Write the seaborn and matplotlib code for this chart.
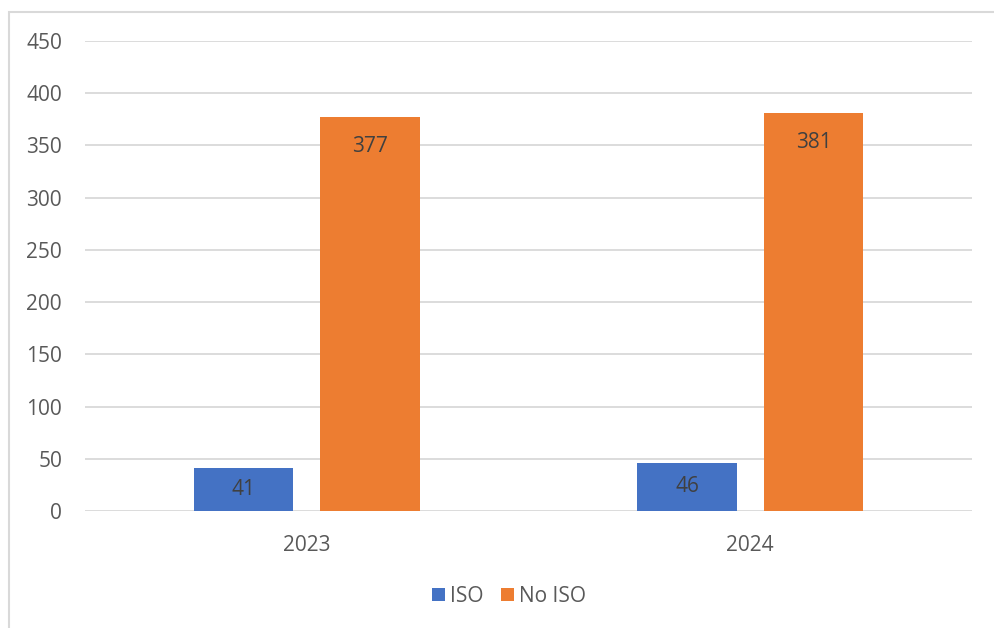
import matplotlib
matplotlib.use("Agg")
import matplotlib.pyplot as plt
import seaborn as sns
import pandas as pd
from matplotlib.patches import Rectangle, Patch

years = ["2023", "2024"]
series_names = ["ISO", "No ISO"]
iso_values = [41, 46]
no_iso_values = [377, 381]
y_ticks = [0, 50, 100, 150, 200, 250, 300, 350, 400, 450]

colors = ["#4472C4", "#ED7D31"]
grey_text = "#595959"
label_text = "#404040"
grid_col = "#D9D9D9"

df = pd.DataFrame({
    "year": years * 2,
    "type": [series_names[0]] * len(years) + [series_names[1]] * len(years),
    "count": iso_values + no_iso_values,
})

sns.set_theme(style="white")
plt.rcParams["font.family"] = ["Open Sans", "DejaVu Sans"]

W, H = 995, 628
fig = plt.figure(figsize=(W / 100, H / 100), dpi=100)
ax = fig.add_axes([85 / W, 1 - 511 / H, (972 - 85) / W, (511 - 41) / H])

sns.barplot(data=df, x="year", y="count", hue="type", hue_order=series_names,
            palette=colors, width=0.57, gap=0.214, saturation=1, ax=ax,
            legend=False, edgecolor="none")

ax.set_xlim(-0.5, 1.5)
ax.set_ylim(0, 450)
ax.set_yticks(y_ticks)
ax.set_xlabel("")
ax.set_ylabel("")
for s in ax.spines.values():
    s.set_visible(False)
ax.grid(axis="y", color=grid_col, linewidth=1.3)
ax.grid(axis="x", visible=False)
ax.set_axisbelow(True)
ax.tick_params(axis="both", length=0, labelsize=15, colors=grey_text)
ax.tick_params(axis="y", pad=16.5)
ax.tick_params(axis="x", pad=17)

# data labels
px_per_unit = (511 - 41) / 450.0
for cont in ax.containers:
    for bar in cont:
        v = bar.get_height()
        h_px = v * px_per_unit
        off_px = min(27, h_px / 2 - 3)
        ax.annotate(f"{int(round(v))}", xy=(bar.get_x() + bar.get_width() / 2, v),
                    xytext=(0, -off_px * 72 / 100), textcoords="offset points",
                    ha="center", va="center_baseline", fontsize=15, color=label_text)

# legend
handles = [Patch(facecolor=c, edgecolor="none") for c in colors]
fig.legend(handles, series_names, loc="center", bbox_to_anchor=(509 / W, 1 - 596 / H),
           ncol=2, frameon=False, fontsize=15, handlelength=0.6, handleheight=0.6,
           handletextpad=0.25, columnspacing=0.85, labelcolor=grey_text)

# outer chart border
fig.patches.append(Rectangle((8.5 / W, -0.1), 1.2, 1 - 11.5 / H + 0.1,
                             transform=fig.transFigure, fill=False,
                             edgecolor=grid_col, linewidth=1.5))

fig.savefig("out.png", dpi=100)
